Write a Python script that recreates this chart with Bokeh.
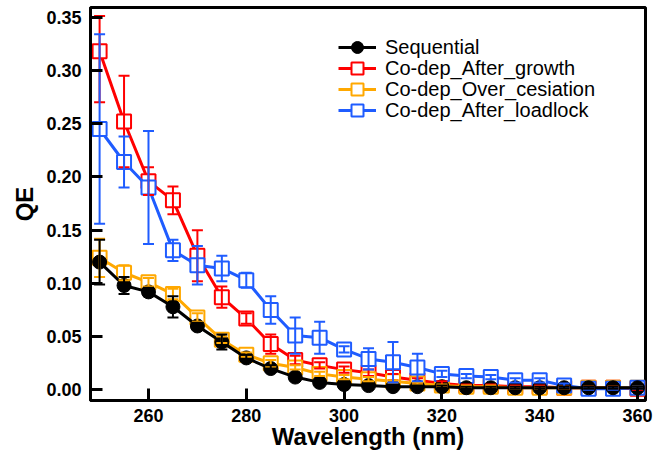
from bokeh.plotting import figure
from bokeh.models import (ColumnDataSource, Whisker, TeeHead, Range1d, FixedTicker,
                          NumeralTickFormatter, Legend, LegendItem)
from bokeh.embed import file_html
from bokeh.resources import INLINE

# ---------------- data ----------------
wavelength = [250, 255, 260, 265, 270, 275, 280, 285, 290, 295, 300, 305,
              310, 315, 320, 325, 330, 335, 340, 345, 350, 355, 360]

sequential = [0.120, 0.098, 0.092, 0.078, 0.060, 0.045, 0.030, 0.020, 0.012, 0.007, 0.005, 0.004,
              0.003, 0.003, 0.003, 0.002, 0.002, 0.002, 0.002, 0.002, 0.002, 0.002, 0.002]
sequential_err = [0.021, 0.008, 0.004, 0.010, 0.003, 0.007, 0.003, 0.003, 0.002, 0.001, 0.001, 0.001,
                  0.001, 0.001, 0.001, 0.001, 0.001, 0.001, 0.001, 0.001, 0.001, 0.001, 0.001]

after_growth = [0.318, 0.252, 0.196, 0.178, 0.126, 0.087, 0.067, 0.043, 0.028, 0.023, 0.019, 0.016,
                0.012, 0.009, 0.006, 0.004, 0.004, 0.003, 0.003, 0.002, 0.002, 0.002, 0.001]
after_growth_err_low = [0.048, 0.043, 0.013, 0.013, 0.024, 0.010, 0.005, 0.009, 0.004, 0.003, 0.003, 0.003,
                        0.003, 0.002, 0.002, 0.001, 0.001, 0.001, 0.001, 0.001, 0.001, 0.001, 0.001]
after_growth_err_high = [0.033, 0.043, 0.013, 0.013, 0.024, 0.010, 0.005, 0.009, 0.004, 0.003, 0.003, 0.003,
                         0.003, 0.002, 0.002, 0.001, 0.001, 0.001, 0.001, 0.001, 0.001, 0.001, 0.001]

over_cesiation = [0.124, 0.110, 0.101, 0.090, 0.068, 0.047, 0.033, 0.025, 0.021, 0.015, 0.012, 0.010,
                  0.008, 0.006, 0.004, 0.003, 0.003, 0.002, 0.002, 0.002, 0.002, 0.002, 0.002]
over_cesiation_err = [0.018, 0.007, 0.004, 0.005, 0.004, 0.003, 0.002, 0.003, 0.002, 0.002, 0.002, 0.002,
                      0.001, 0.001, 0.001, 0.001, 0.001, 0.001, 0.001, 0.001, 0.001, 0.001, 0.001]

after_loadlock = [0.245, 0.214, 0.190, 0.131, 0.117, 0.114, 0.103, 0.075, 0.051, 0.049, 0.038, 0.029,
                  0.026, 0.021, 0.015, 0.013, 0.012, 0.009, 0.009, 0.004, 0.001, 0.001, 0.002]
after_loadlock_err = [0.089, 0.024, 0.053, 0.010, 0.018, 0.012, 0.007, 0.013, 0.017, 0.015, 0.003, 0.010,
                      0.019, 0.013, 0.003, 0.002, 0.002, 0.002, 0.002, 0.002, 0.001, 0.001, 0.001]

x_ticks = [260, 280, 300, 320, 340, 360]
y_ticks = [0.00, 0.05, 0.10, 0.15, 0.20, 0.25, 0.30, 0.35]
x_title = "Wavelength (nm)"
y_title = "QE"

FONT = "Liberation Sans"

p = figure(width=664, height=459, output_backend="svg", toolbar_location=None,
           x_range=Range1d(248.14, 361.64), y_range=Range1d(-0.0100, 0.3591),
           min_border_left=90, min_border_right=19, min_border_top=7, min_border_bottom=59)

p.xgrid.visible = False
p.ygrid.visible = False
p.outline_line_color = "black"
p.outline_line_width = 3
p.background_fill_color = "white"
p.border_fill_color = "white"

for ax in (p.xaxis[0], p.yaxis[0]):
    ax.axis_line_width = 3
    ax.major_tick_line_width = 3
    ax.major_tick_in = 12
    ax.major_tick_out = 0
    ax.minor_tick_line_color = None
    ax.major_label_text_font = FONT
    ax.major_label_text_font_style = "bold"
    ax.major_label_text_font_size = "18px"
    ax.major_label_text_color = "black"
    ax.axis_label_text_font = FONT
    ax.axis_label_text_font_style = "bold"
    ax.axis_label_text_font_size = "24px"
    ax.axis_label_text_color = "black"

p.xaxis[0].ticker = FixedTicker(ticks=x_ticks)
p.yaxis[0].ticker = FixedTicker(ticks=y_ticks)
p.yaxis[0].formatter = NumeralTickFormatter(format="0.00")
p.xaxis[0].axis_label = x_title
p.yaxis[0].axis_label = y_title
p.xaxis[0].major_label_standoff = 8
p.xaxis[0].axis_label_standoff = -2
p.yaxis[0].major_label_standoff = 9
p.yaxis[0].axis_label_standoff = 5

series = [
    ("Co-dep_After_growth", after_growth, after_growth_err_low, after_growth_err_high, "#ff0000", "square"),
    ("Co-dep_Over_cesiation", over_cesiation, over_cesiation_err, over_cesiation_err, "#ffa800", "square"),
    ("Co-dep_After_loadlock", after_loadlock, after_loadlock_err, after_loadlock_err, "#1f5cff", "square"),
    ("Sequential", sequential, sequential_err, sequential_err, "#000000", "circle"),
]

legend_items = {}
for name, vals, err_lo, err_hi, color, marker in series:
    src = ColumnDataSource(dict(
        x=wavelength, y=vals,
        upper=[v + e for v, e in zip(vals, err_hi)],
        lower=[v - e for v, e in zip(vals, err_lo)],
    ))
    ln = p.line("x", "y", source=src, line_color=color, line_width=3)
    w = Whisker(base="x", upper="upper", lower="lower", source=src, dimension="height",
                line_color=color, line_width=2, level="glyph",
                upper_head=TeeHead(size=11, line_color=color, line_width=2),
                lower_head=TeeHead(size=11, line_color=color, line_width=2))
    p.add_layout(w)
    if marker == "circle":
        sc = p.scatter("x", "y", source=src, marker="circle", size=14,
                       fill_color=color, line_color=color, line_width=1)
    else:
        sc = p.scatter("x", "y", source=src, marker="square", size=14,
                       fill_color="white", line_color=color, line_width=2)
    legend_items[name] = [ln, sc]

order = ["Sequential", "Co-dep_After_growth", "Co-dep_Over_cesiation", "Co-dep_After_loadlock"]
# one legend per row so rows can sit closer than the glyph box height
for i, n in enumerate(order):
    lg = Legend(items=[LegendItem(label=n, renderers=legend_items[n])],
                location=(248, 338 - 21 * i), orientation="vertical",
                border_line_color=None, background_fill_alpha=0,
                padding=0, margin=0, spacing=0,
                glyph_width=38, glyph_height=30, label_height=22,
                label_standoff=9,
                label_text_font=FONT, label_text_font_size="20px",
                label_text_color="black")
    p.add_layout(lg)

open("out.html", "w").write(file_html(p, INLINE))
